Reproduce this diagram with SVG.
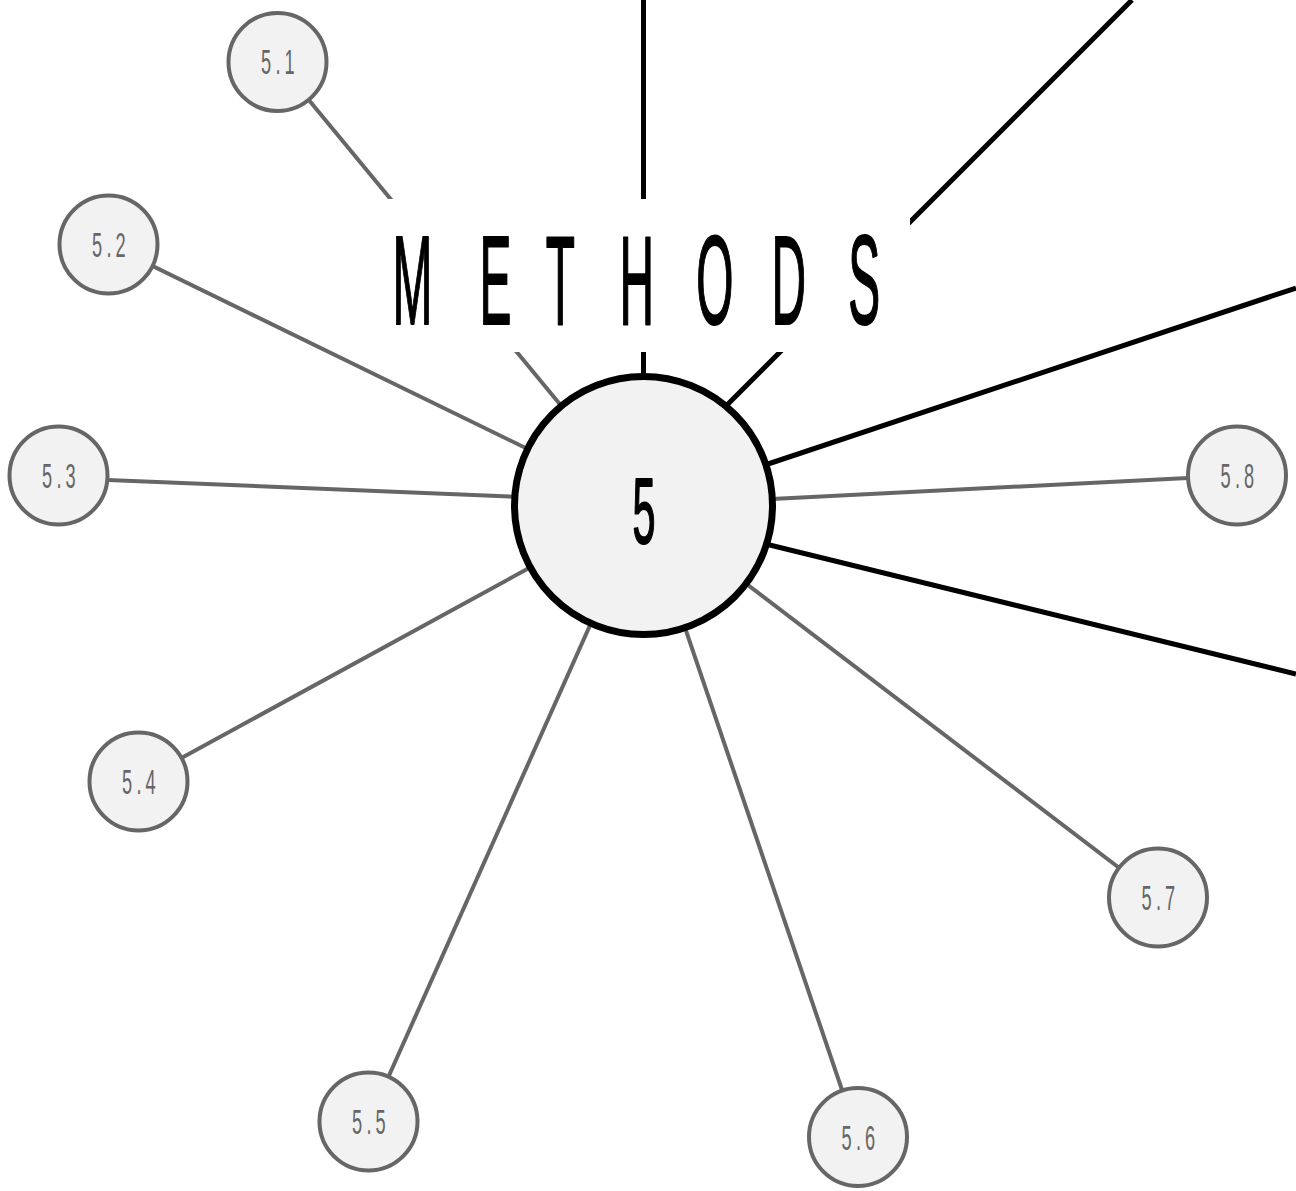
<svg xmlns="http://www.w3.org/2000/svg" width="1296" height="1191" viewBox="0 0 1296 1191">
<style>
.bl{stroke:#000;stroke-width:5;fill:none}
.gl{stroke:#666;stroke-width:4;fill:none}
.sc{fill:#f2f2f2;stroke:#666;stroke-width:4}
.lab{font-family:"Liberation Sans",Arial,sans-serif;font-size:35px;fill:#666;text-anchor:middle;letter-spacing:8px}
.big{font-family:"Liberation Sans",Arial,sans-serif;fill:#000;stroke:#000;stroke-width:1.5;stroke-linejoin:round;vector-effect:non-scaling-stroke}
</style>
<rect width="1296" height="1191" fill="#fff"/>
<g id="connectors">
<line class="gl" x1="277.5" y1="62" x2="643.5" y2="505.5"/>
<line class="gl" x1="108.5" y1="244.5" x2="643.5" y2="505.5"/>
<line class="gl" x1="58.5" y1="478" x2="643.5" y2="502"/>
<line class="gl" x1="138.5" y1="781.5" x2="643.5" y2="505.5"/>
<line class="gl" x1="368.5" y1="1121.5" x2="643.5" y2="505.5"/>
<line class="gl" x1="858" y1="1137" x2="643.5" y2="505.5"/>
<line class="gl" x1="1158" y1="897.5" x2="643.5" y2="505.5"/>
<line class="gl" x1="1237" y1="475.5" x2="643.5" y2="505.5"/>
<line class="bl" x1="643.5" y1="0" x2="643.5" y2="505"/>
<line class="bl" x1="1132" y1="0" x2="632" y2="500"/>
<line class="bl" x1="1296" y1="288" x2="643.5" y2="505.5"/>
<line class="bl" x1="1296" y1="674" x2="643.5" y2="514"/>
</g>
<g id="title">
<rect x="385" y="199" width="525" height="153" fill="#fff"/>
<text class="big" transform="scale(0.38,1)" y="324" x="1033 1262 1436 1630 1832 2030 2232" font-size="126">METHODS</text>
</g>
<g id="node-5">
<circle cx="643.5" cy="505.5" r="129" fill="#f2f2f2" stroke="#000" stroke-width="7"/>
<text class="big" transform="scale(0.45,1)" x="1431" y="543" font-size="92" text-anchor="middle">5</text>
</g>
<g id="node-5-1"><circle class="sc" cx="277.5" cy="62" r="49"/><text class="lab" transform="translate(280,74) scale(0.52,1)">5.1</text></g>
<g id="node-5-2"><circle class="sc" cx="108.5" cy="244.5" r="49"/><text class="lab" transform="translate(111,257) scale(0.52,1)">5.2</text></g>
<g id="node-5-3"><circle class="sc" cx="58.5" cy="475.5" r="49"/><text class="lab" transform="translate(61,488) scale(0.52,1)">5.3</text></g>
<g id="node-5-4"><circle class="sc" cx="138.5" cy="781.5" r="49"/><text class="lab" transform="translate(141,794) scale(0.52,1)">5.4</text></g>
<g id="node-5-5"><circle class="sc" cx="368.5" cy="1121.5" r="49"/><text class="lab" transform="translate(371,1134) scale(0.52,1)">5.5</text></g>
<g id="node-5-6"><circle class="sc" cx="858" cy="1137" r="49"/><text class="lab" transform="translate(860.5,1149.5) scale(0.52,1)">5.6</text></g>
<g id="node-5-7"><circle class="sc" cx="1158" cy="897.5" r="49"/><text class="lab" transform="translate(1160.5,910) scale(0.52,1)">5.7</text></g>
<g id="node-5-8"><circle class="sc" cx="1237" cy="475.5" r="49"/><text class="lab" transform="translate(1239.5,488) scale(0.52,1)">5.8</text></g>
</svg>
